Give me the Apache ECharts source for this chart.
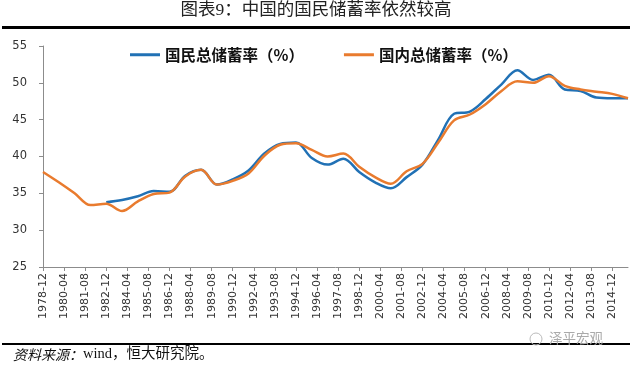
<!DOCTYPE html>
<html>
<head>
<meta charset="utf-8">
<script src="https://cdn.jsdelivr.net/npm/echarts@6/dist/echarts.min.js"></script>
<style>
html,body{margin:0;padding:0;background:#fff;}
#chart{width:632px;height:367px;}
</style>
</head>
<body>
<div id="chart"></div>
<script>
// Years (values are year-end, December)
const years = [1978,1979,1980,1981,1982,1983,1984,1985,1986,1987,1988,1989,1990,1991,1992,1993,1994,1995,1996,1997,1998,1999,2000,2001,2002,2003,2004,2005,2006,2007,2008,2009,2010,2011,2012,2013,2014,2015];
// 国民总储蓄率（%）
const nationalSaving = [null,null,null,null,33.8,34.1,34.6,35.3,35.2,37.4,38.2,36.2,36.9,38.1,40.4,41.7,41.9,39.8,38.9,39.7,37.9,36.5,35.7,37.2,38.9,42.3,45.8,46.1,47.8,49.8,51.7,50.4,51.1,49.1,48.9,48.0,47.9,47.9];
// 国内总储蓄率（%）
const domesticSaving = [37.9,36.5,35.0,33.4,33.6,32.6,33.9,34.9,35.1,37.3,38.2,36.2,36.7,37.7,40.1,41.6,41.8,40.9,40.0,40.4,38.6,37.2,36.3,38.0,39.0,41.9,44.9,45.7,47.1,48.9,50.2,50.0,50.9,49.6,49.1,48.8,48.5,47.9];
const seriesNames = ['国民总储蓄率（%）','国内总储蓄率（%）'];
const startYear = 1978, startMonth = 12; // axis origin 1978-12
const labelStepMonths = 16;
const yTicks = {min:25, max:55, interval:5};

function toPoints(arr){
  const out = [];
  arr.forEach((v,i)=>{ if(v!==null) out.push([(years[i]-startYear)*12 + (12-startMonth), v]); });
  return out;
}
function monthLabel(v){
  if (v % labelStepMonths !== 0) return '';
  const m = (startMonth-1) + v;
  const y = startYear + Math.floor(m/12);
  const mm = (m % 12) + 1;
  return y + '-' + (mm<10?'0':'') + mm;
}
const lastIdx = (years[years.length-1]-startYear)*12;

const chart = echarts.init(document.getElementById('chart'), null, {renderer:'canvas'});
chart.setOption({
  animation:false,
  backgroundColor:'#fff',
  grid:{left:43, right:4, top:46, bottom:100, containLabel:false},
  legend:{
    left:130, top:47, padding:0, itemGap:40,
    itemWidth:30, itemHeight:3, icon:'rect',
    textStyle:{fontFamily:'Noto Sans CJK SC', fontWeight:'bold', fontSize:15.5, color:'#111'},
    data:seriesNames
  },
  xAxis:{
    type:'value', min:0, max:lastIdx, interval:labelStepMonths,
    axisLine:{lineStyle:{color:'#8c8c8c', width:1}},
    axisTick:{show:true, length:4, lineStyle:{color:'#8c8c8c'}},
    splitLine:{show:false},
    axisLabel:{rotate:90, formatter:monthLabel, showMaxLabel:false, margin:6,
      fontFamily:'DejaVu Sans', fontSize:11, color:'#333'}
  },
  yAxis:{
    type:'value', min:yTicks.min, max:yTicks.max, interval:yTicks.interval,
    axisLine:{show:true, lineStyle:{color:'#8c8c8c', width:1}},
    axisTick:{show:true, length:4, lineStyle:{color:'#8c8c8c'}},
    splitLine:{show:false},
    axisLabel:{margin:16, fontFamily:'DejaVu Sans', fontSize:11.5, color:'#333'}
  },
  series:[
    {name:seriesNames[0], type:'line', data:toPoints(nationalSaving), smooth:0.35, showSymbol:false,
     lineStyle:{color:'#2171b5', width:2.5}, itemStyle:{color:'#2171b5'}, z:2},
    {name:seriesNames[1], type:'line', data:toPoints(domesticSaving), smooth:0.35, showSymbol:false,
     lineStyle:{color:'#e97b2e', width:2.5}, itemStyle:{color:'#e97b2e'}, z:3}
  ],
  graphic:[
    {type:'text', left:'center', top:2, style:{text:'图表9：中国的国民储蓄率依然较高', fontFamily:'Liberation Serif, Noto Sans CJK SC', fontSize:17.5, fill:'#222'}},
    {type:'rect', shape:{x:2, y:26, width:628, height:3}, style:{fill:'#000'}},
    {type:'rect', shape:{x:2, y:343, width:628, height:2}, style:{fill:'#000'}},
    {type:'text', left:13, top:347, style:{
      text:'{a|资料来源：}{b|wind，恒大研究院。}',
      rich:{
        a:{fontFamily:'Noto Sans CJK SC', fontStyle:'italic', fontSize:14, fill:'#111'},
        b:{fontFamily:'Liberation Serif, Noto Sans CJK SC', fontSize:14.5, fill:'#111'}
      }}},
    {type:'circle', shape:{cx:536, cy:339, r:6}, style:{fill:'none', stroke:'#bbb', lineWidth:1}},
    {type:'text', left:549, top:331, style:{text:'泽平宏观', fontFamily:'Noto Sans CJK SC', fontSize:13.5, fill:'#aaa'}}
  ]
});
</script>
</body>
</html>
